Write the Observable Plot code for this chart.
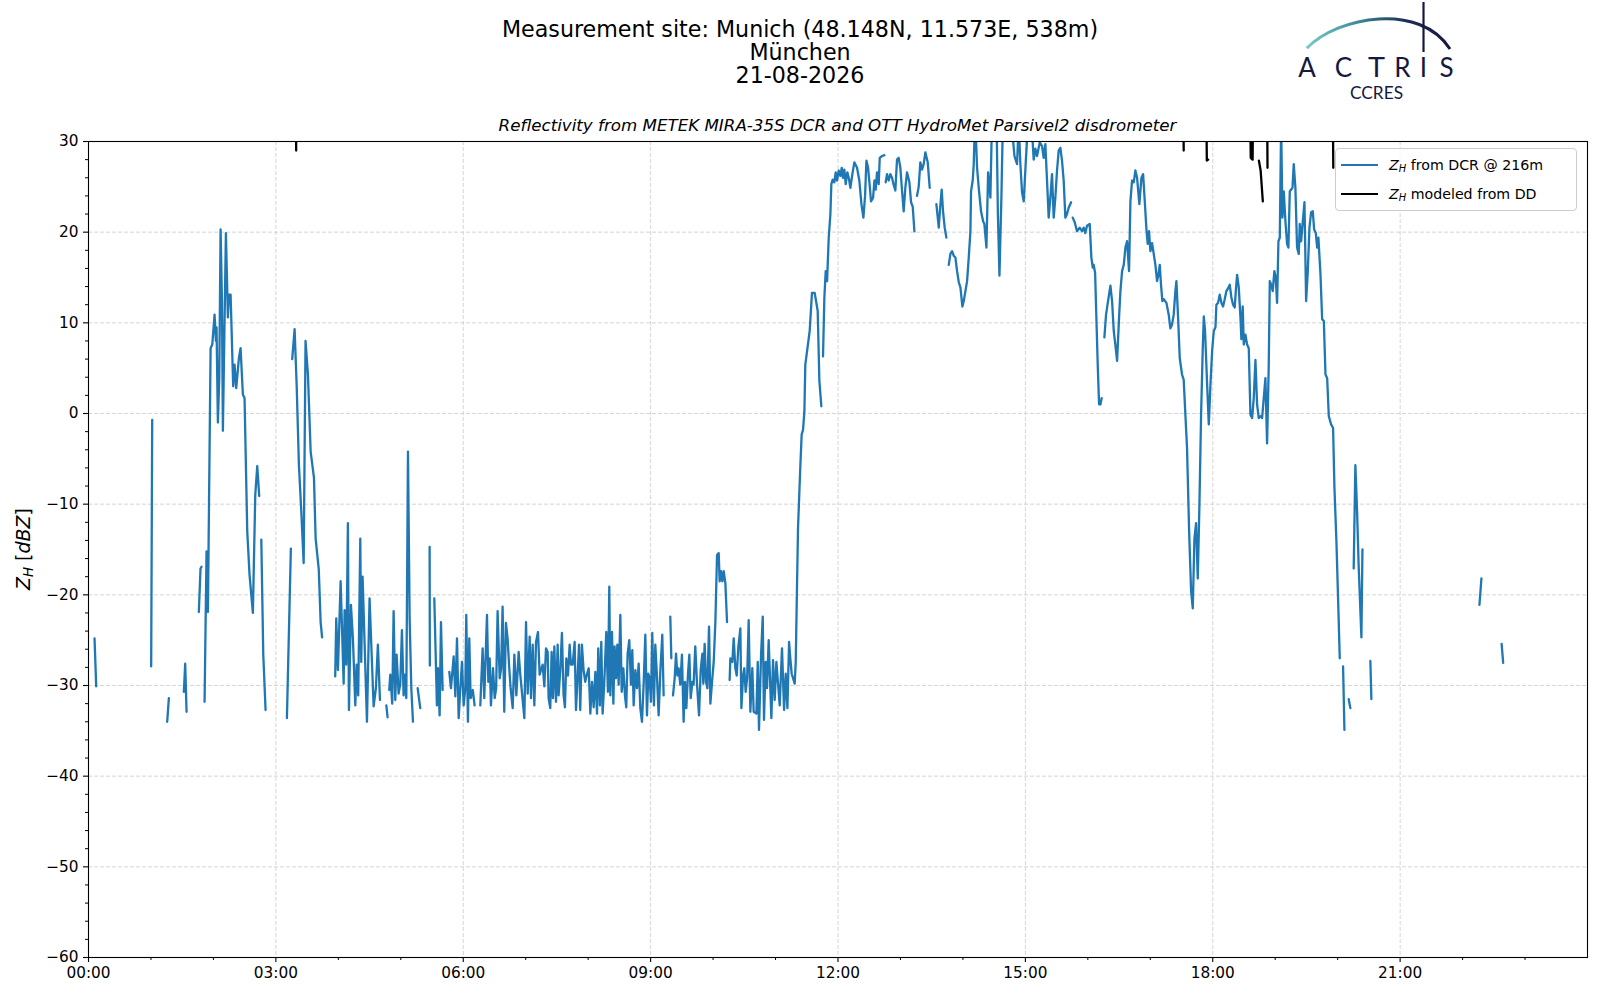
<!DOCTYPE html>
<html>
<head>
<meta charset="utf-8">
<script src="https://cdn.jsdelivr.net/npm/d3@7"></script>
<script src="https://cdn.jsdelivr.net/npm/@observablehq/plot@0.6"></script>
<style>
html,body{margin:0;padding:0;background:#fff;}
#page{position:relative;width:1600px;height:1000px;background:#fff;font-family:"DejaVu Sans",sans-serif;color:#000;overflow:hidden;}
#title{position:absolute;left:0;top:18px;width:1600px;text-align:center;font-size:22.2px;line-height:23px;}
#subtitle{position:absolute;left:88px;width:1499px;top:115px;text-align:center;font-size:16.7px;font-style:italic;line-height:20px;white-space:nowrap;}
#ylabel{position:absolute;left:22.5px;top:549px;transform:translate(-50%,-50%) rotate(-90deg);white-space:nowrap;font-size:19px;line-height:22px;}
sub{font-size:0.7em;vertical-align:-0.25em;line-height:0;}
#chart{position:absolute;left:0;top:100px;}
#legend{position:absolute;left:1335px;top:148px;width:242px;height:63px;box-sizing:border-box;border:1px solid #cccccc;border-radius:4px;background:rgba(255,255,255,0.8);}
.lrow{position:absolute;left:0;width:240px;height:20px;font-size:14.2px;line-height:20px;white-space:nowrap;}
.lrow svg{position:absolute;left:5px;top:0;}
.lrow span{position:absolute;left:53px;top:0;}
#logo{position:absolute;left:0;top:0;}
</style>
</head>
<body>
<div id="page">
  <div id="title">Measurement site: Munich (48.148N, 11.573E, 538m)<br>München<br>21-08-2026</div>
  <div id="subtitle">Reflectivity from METEK MIRA-35S DCR and OTT HydroMet Parsivel2 disdrometer</div>
  <svg id="logo" width="1600" height="110">
    <defs>
      <linearGradient id="arcg" x1="1306" y1="0" x2="1450" y2="0" gradientUnits="userSpaceOnUse">
        <stop offset="0" stop-color="#7ccac7"/>
        <stop offset="0.35" stop-color="#3c8e9b"/>
        <stop offset="0.7" stop-color="#1e2b56"/>
        <stop offset="1" stop-color="#16183f"/>
      </linearGradient>
    </defs>
    <path d="M1306.7,48.3 C1338,16 1420,2 1450,49" fill="none" stroke="url(#arcg)" stroke-width="3"/>
    <line x1="1423.5" y1="2" x2="1423.5" y2="52" stroke="#16183f" stroke-width="2.2"/>
    <g font-family="Lato, 'DejaVu Sans', sans-serif" fill="#16183f" font-size="26" text-anchor="middle">
      <text x="1307" y="77">A</text>
      <text x="1343.5" y="77">C</text>
      <text x="1376.5" y="77" textLength="17" lengthAdjust="spacingAndGlyphs">T</text>
      <text x="1402.5" y="77">R</text>
      <text x="1423.5" y="77">I</text>
      <text x="1446.5" y="77">S</text>
      <text x="1376.5" y="99" font-size="18" textLength="53" lengthAdjust="spacingAndGlyphs">CCRES</text>
    </g>
  </svg>
  <div id="chart"></div>
  <div id="ylabel"><i>Z<sub>H</sub></i> [<i>dBZ</i>]</div>
  <div id="legend">
    <div class="lrow" style="top:6px"><svg width="37" height="20"><line x1="0" y1="10" x2="37" y2="10" stroke="#1f77b4" stroke-width="2.2"/></svg><span><i>Z<sub>H</sub></i> from DCR @ 216m</span></div>
    <div class="lrow" style="top:35px"><svg width="37" height="20"><line x1="0" y1="10" x2="37" y2="10" stroke="#000" stroke-width="2.2"/></svg><span><i>Z<sub>H</sub></i> modeled from DD</span></div>
  </div>
</div>
<script>
// ---- data: [minutes after 00:00 UTC, Z_H in dBZ]; null = gap in the record ----
const dcrNight = [
  [5.8,-24.8],[7.4,-30.1], null,
  [60.2,-27.9],[61.2,-0.7], null,
  [75.6,-34.0],[77.2,-31.4], null,
  [91.6,-30.7],[92.9,-27.6],[94.2,-32.9], null,
  [106.0,-21.9],[107.6,-17.1],[108.6,-16.9], null,
  [111.5,-31.8],[113.4,-15.2],[114.7,-21.9],[117.3,7.2],[118.9,7.6],[121.1,10.9],[122.4,8.0],[123.0,9.5],[124.3,-1.0],[125.6,3.9],
  [126.9,20.3],[128.2,12.4],[129.1,-1.9],[132.0,19.9],[133.9,10.6],[134.9,13.1],[136.5,13.1],[139.0,3.0],[140.3,5.4],[141.9,2.8],
  [144.5,6.1],[146.1,7.2],[148.3,2.1],[149.9,1.7],[152.5,-13.0],[154.7,-17.8],[157.9,-22.0],[160.2,-9.0],[162.1,-5.8],[164.0,-9.1], null,
  [166.0,-13.9],[167.9,-26.6],[170.1,-32.7], null,
  [190.6,-33.6],[194.4,-14.9], null,
  [195.7,6.0],[198.0,9.3],[200.0,3.0],[202.1,-5.6],[204.5,-11.0],[206.7,-16.5],[208.5,8.0],[210.8,4.3],[213.4,-4.2],[216.6,-7.1],
  [218.2,-13.8],[221.2,-17.2],[223.0,-23.0],[224.4,-24.7]
];
const dcrDrizzle = [
  [237.0,-29.0],[238.0,-22.6],[239.6,-28.3],[242.2,-18.5],[245.1,-29.8],[246.0,-21.7],[247.6,-27.7],[249.2,-12.1],[250.2,-32.7],[252.1,-21.1],
  [254.0,-24.8],[256.3,-32.2],[257.6,-27.7],[259.1,-31.1],[261.1,-13.8],[262.0,-27.4],[263.3,-18.0],[267.5,-34.0],[270.0,-20.4],[273.9,-32.3],
  [276.1,-30.3],[278.0,-25.5],[280.0,-31.6], null,
  [286.1,-32.2],[287.3,-33.5], null,
  [288.9,-30.5],[289.9,-28.8],[291.8,-32.0],[293.1,-21.8],[294.7,-31.6],[296.0,-26.6],[297.9,-30.9],[299.5,-29.8],[301.1,-23.9],[302.7,-31.1],
  [303.7,-28.8],[305.3,-31.4],[306.9,-4.2],[308.5,-22.6],[310.1,-30.3],[311.7,-34.0], null,
  [316.2,-30.3],[318.7,-32.5], null,
  [327.7,-14.7],[327.9,-27.8], null,
  [332.2,-20.4],[334.7,-32.2],[335.7,-28.1],[337.3,-33.3],[338.6,-23.0],[340.2,-30.5], null,
  [346.6,-28.5],[348.2,-30.3],[350.8,-26.8],[352.4,-31.2],[354.0,-24.8],[355.6,-33.6],[357.2,-30.3],[358.8,-27.4],[360.4,-32.2],[362.0,-30.3],
  [362.9,-22.2],[364.5,-34.0],[365.8,-24.8],[367.1,-31.4],[369.2,-30.5],[370.9,-32.2], null,
  [376.4,-32.2],[378.6,-25.9],[380.2,-31.4],[382.8,-22.2],[384.1,-29.6],[385.4,-27.0],[386.6,-32.2],[388.6,-28.1],[390.2,-31.4],[391.6,-30.3],
  [393.0,-21.8],[395.0,-29.2],[396.4,-28.1],[397.8,-21.3],[399.4,-32.9],[401.0,-23.1],[402.6,-24.8],[404.2,-28.1],[405.5,-30.3],[407.5,-32.5],
  [409.1,-26.6],[411.0,-31.1],[413.2,-26.3],[414.8,-28.8],[416.9,-31.4],[418.7,-33.6],[420.3,-23.0],[421.9,-30.9],[423.8,-24.6],[425.1,-31.4],
  [426.7,-25.5],[428.3,-32.2],[429.9,-25.2],[431.8,-24.1],[433.4,-28.8],[436.3,-27.7],[437.9,-30.1],[439.5,-25.9],[441.1,-26.3],[442.0,-31.4],
  [443.6,-32.5],[444.9,-26.3],[446.2,-31.4],[447.5,-25.7],[449.1,-31.8],[450.7,-25.5],[451.6,-31.1],[453.2,-28.3],[454.8,-24.2],[456.4,-31.1],
  [457.7,-32.4],[459.0,-27.0],[460.6,-28.9],[462.2,-25.5],[463.5,-27.7],[465.1,-27.7],[467.0,-25.2],[468.3,-32.7],[469.9,-28.9],[471.2,-25.5],
  [472.4,-32.7],[474.0,-25.5],[475.6,-28.3],[477.2,-29.6],[478.9,-28.7],[480.5,-28.1],[482.1,-33.1],[483.7,-29.6],[485.3,-32.4],[486.9,-28.5],
  [488.5,-33.1],[489.7,-25.9],[491.3,-32.2],[492.6,-25.2],[493.9,-33.1],[495.5,-29.6],[497.4,-24.1],[499.0,-30.7],[500.3,-19.1],[501.3,-31.1],
  [502.9,-24.1],[504.2,-32.0],[505.4,-25.7],[506.7,-29.2],[508.0,-25.5],[509.3,-29.9],[510.9,-22.2],[512.2,-30.7],[513.8,-28.1],[515.4,-31.2],
  [516.6,-32.4],[517.9,-26.5],[519.5,-25.0],[521.1,-29.9],[522.4,-26.1],[523.7,-32.2],[525.3,-28.3],[526.9,-30.3],[528.5,-27.6],[530.1,-32.5],
  [531.7,-34.0],[533.3,-29.8],[534.9,-24.4],[536.5,-33.3],[537.8,-28.7],[539.1,-29.2],[540.3,-31.8],[541.6,-24.2],[543.2,-32.2],[544.5,-25.5],
  [546.1,-29.0],[547.7,-33.3],[549.3,-28.5],[551.2,-24.4],[552.5,-31.1], null,
  [558.9,-22.4],[559.9,-27.0], null,
  [561.5,-31.1],[563.1,-29.2],[564.4,-26.5],[565.7,-28.9],[566.9,-28.1],[568.5,-29.9],[570.1,-26.6],[571.7,-34.0],[573.0,-29.6],[574.3,-32.5],
  [575.9,-28.7],[577.2,-26.6],[578.5,-31.4],[580.1,-29.6],[581.3,-29.9],[582.9,-25.7],[584.6,-29.9],[586.5,-33.3],[588.1,-28.3],[589.7,-26.5],
  [590.6,-29.8],[591.9,-25.4],[593.2,-29.6],[594.5,-30.3],[596.1,-23.5],[597.4,-32.0],[599.0,-29.6],[600.6,-27.4],[602.2,-23.0],[603.8,-15.6],
  [605.4,-15.4],[606.3,-18.5],[607.6,-17.4],[608.9,-18.5],[610.2,-17.4],[611.8,-18.7],[613.4,-23.0], null,
  [615.9,-29.4],[616.6,-27.0],[618.5,-27.4],[619.8,-24.8],[621.4,-28.1],[622.7,-28.9],[624.3,-25.7],[626.2,-23.7],[627.2,-32.5],[628.8,-28.9],
  [630.0,-28.1],[631.3,-30.7],[632.7,-29.2],[634.2,-22.8],[635.8,-32.9],[637.7,-28.1],[639.0,-32.9],[641.6,-33.1],[642.9,-27.4],[644.1,-34.9],
  [646.1,-26.6],[647.7,-22.4],[648.9,-33.8],[650.5,-27.4],[651.8,-30.3],[653.4,-25.0],[656.0,-33.6],[657.6,-27.2],[659.2,-31.6],[660.8,-27.4],
  [664.0,-32.2],[666.2,-25.9],[668.2,-32.7],[669.8,-28.7],[671.4,-32.5],[673.0,-25.2],[674.2,-27.0],[675.5,-28.7],[678.4,-29.8],[679.4,-27.4],
  [680.7,-18.5],[681.6,-12.6],[682.9,-8.6],[683.9,-5.6],[685.1,-2.3],[686.4,-1.8],[687.7,0.2],[688.6,5.4],[692.8,9.1],[695.0,13.3],
  [697.6,13.3],[700.5,11.3],[702.1,3.6],[704.0,0.8]
];
const dcrRain = [
  [705.6,6.3],[706.9,12.8],[708.2,15.7],[709.5,14.6],[711.1,19.4],[712.7,22.0],[713.6,25.3],[714.9,25.8],[716.5,25.5],[717.8,26.6],
  [719.1,25.7],[720.7,26.8],[722.3,26.2],[723.6,27.1],[724.8,26.0],[726.1,26.9],[727.4,25.3],[729.0,26.6],[730.5,25.9],[731.9,24.9],
  [733.8,26.4],[735.7,27.7],[738.3,27.1],[740.5,25.7],[742.5,23.1],[744.4,21.6],[746.0,24.0],[747.3,27.9],[748.9,27.1],[750.5,25.1],
  [751.7,23.4],[753.7,23.8],[755.0,25.7],[756.2,24.7],[757.5,26.6],[759.1,25.3],[760.1,28.2],[762.3,28.4],[764.6,28.5], null,
  [765.8,25.5],[767.1,26.4],[768.7,25.7],[770.3,26.4],[771.9,26.0],[773.5,25.2],[775.1,24.6],[776.7,28.0],[778.3,28.2],[779.9,27.1],
  [781.5,24.6],[783.1,22.3],[784.7,24.9],[786.3,26.6],[788.6,25.5],[790.2,23.3],[791.8,22.8],[793.4,20.1], null,
  [795.9,24.0],[797.5,25.0],[799.1,27.7],[800.7,26.9],[802.3,27.5],[803.9,28.8],[806.2,27.7],[808.1,24.9], null,
  [814.5,23.1],[816.8,20.5],[818.0,22.5],[819.6,24.7],[820.9,22.3],[822.5,20.5],[824.1,19.4], null,
  [826.4,16.4],[828.0,17.6],[829.6,17.9],[831.2,17.4],[832.8,17.2],[834.4,15.7],[836.0,14.5],[837.6,13.9],[839.5,11.8],[840.8,12.4],
  [842.4,13.5],[844.0,14.6],[845.6,17.2],[847.2,20.1],[847.8,24.5],[849.4,25.7],[850.4,27.5],[851.7,33],[853.6,27.1],[855.2,24.9],
  [857.4,22.3],[859.4,21.2],[860.6,20.9],[862.6,18.3],[864.2,26.6],[866.4,23.8],[868.0,33],[870.5,34],[872.5,31],[873.6,22],
  [875.1,15.2],[877.0,24],[878.5,33],[882.0,35],[886.0,33],[889.5,28.4],[892.0,27.5],[893.6,32],[895.2,27.5],[896.8,24.4],
  [898.4,23.4],[900.5,28],[903.0,33],[906.0,32],[908.0,28.0],[909.6,29.2],[911.2,28.4],[913.8,29.9],[916.0,29.5],[917.6,28.2],
  [919.2,29.7],[920.8,25.7],[922.4,21.6],[924.0,23.8],[925.6,26.4],[927.2,21.6],[928.8,23.8],[930.4,26.8],[932.0,29.0],[933.6,29.3],
  [935.2,27.9],[936.8,25.7],[938.4,21.6],[940.0,22.0],[941.6,22.7],[943.9,23.3], null,
  [945.5,21.6],[947.4,21.1],[949.6,20.1],[952.2,20.5],[954.4,20.1],[956.0,20.5],[957.6,19.9],[959.2,20.7],[961.8,20.9],[963.4,17.2],
  [964.7,16.1],[965.6,16.4],[967.0,15.5],[968.2,10.6],[969.5,5.4],[970.8,1.0],[972.1,1.0],[973.3,1.7], null,
  [975.9,8.4],[977.5,10.9],[979.4,12.4],[981.7,14.1],[983.3,12.4],[984.9,9.1],[986.8,7.2],[988.1,5.8],[990.0,10.6],[991.3,13.5],
  [992.9,15.7],[994.5,16.4],[996.1,18.3],[997.7,19.0],[999.6,15.7],[1000.9,23.4],[1002.5,25.7],[1004.1,25.5],[1005.7,26.8],[1007.3,26.0],
  [1009.5,23.1],[1011.5,26.0],[1013.1,26.4],[1014.7,23.4],[1016.3,20.3],[1017.5,18.7],[1018.8,20.1],[1020.1,17.9],[1021.7,18.8],[1023.3,17.6],
  [1024.9,16.4],[1026.5,14.6],[1027.8,15.3],[1029.1,16.4],[1030.3,14.2],[1031.6,12.4],[1032.9,12.6],[1035.5,12.2],[1037.7,10.9],[1039.3,9.4],
  [1040.9,9.8],[1042.5,10.9],[1044.1,13.5],[1045.1,14.6],[1046.7,10.6],[1048.3,6.1],[1050.5,4.3],[1052.1,3.7],[1053.7,-0.1],[1055.3,-3.8],
  [1057.3,-13.0],[1059.2,-19.6],[1060.8,-21.5],[1062.4,-13.8],[1064.0,-12.1],[1065.6,-18.2],[1067.2,-10.1],[1068.8,-0.1],[1070.4,7.2],[1071.4,10.7],
  [1072.6,9.1],[1074.6,3.2],[1076.2,-1.2],[1077.8,3.2],[1079.4,6.9],[1081.0,9.1],[1082.6,9.5],[1083.5,12.0],[1085.1,12.2],[1086.7,13.1],
  [1088.3,12.2],[1089.9,11.8],[1091.5,12.6],[1093.1,13.5],[1094.7,13.8],[1096.3,14.2],[1097.9,12.8],[1099.5,12.0],[1101.1,11.7],[1102.4,13.9],
  [1103.4,15.3],[1105.0,13.9],[1106.6,10.6],[1107.5,8.2],[1108.8,11.8],[1109.8,7.6],[1111.4,8.7],[1113.0,7.6],[1114.6,7.2],[1116.2,-0.1],
  [1117.8,-0.5],[1119.4,1.7],[1121.0,5.9],[1122.6,1.0],[1124.2,-0.5],[1125.8,-0.3],[1127.4,-0.5],[1129.0,1.7],[1130.6,3.9],[1132.2,-3.3],
  [1133.8,5.4],[1134.8,14.6],[1136.1,14.2],[1137.6,13.5],[1139.2,15.7],[1140.5,15.0],[1141.8,12.2],[1143.1,19.0],[1144.4,19.4],[1145.7,32],
  [1146.9,21.6],[1148.2,24.5],[1149.8,21.2],[1151.4,18.7],[1152.7,18.3],[1154.0,24.5],[1155.3,24.7],[1156.6,24.9],[1157.8,27.5],[1159.4,24.9],
  [1161.0,18.3],[1162.6,17.6],[1163.6,20.9],[1164.9,19.0],[1166.5,21.2],[1168.1,23.3],[1169.7,12.4],[1171.3,15.7],[1172.9,20.5],[1174.5,22.2],
  [1176.1,22.3],[1177.4,20.3],[1179.0,19.9],[1180.3,18.3],[1181.5,19.4],[1183.5,15.3],[1185.1,10.4],[1186.7,10.2],[1188.3,4.3],[1189.9,3.9],
  [1191.5,-0.3],[1193.7,-1.2],[1195.6,-1.6],[1196.9,-8.2],[1198.8,-14.1],[1200.4,-20.4],[1202.0,-27.0], null,
  [1205.2,-27.9],[1206.5,-34.9], null,
  [1210.6,-31.5],[1212.2,-32.5], null,
  [1215.4,-17.1],[1217.0,-5.7],[1218.6,-10.6],[1220.2,-16.9],[1222.8,-24.7],[1223.8,-15.0], null,
  [1231.4,-27.3],[1232.4,-31.5], null,
  [1336.2,-21.1],[1338.1,-18.2], null,
  [1357.5,-25.4],[1359.0,-27.5]
];
const ddModel = [
  [199.3,33],[199.5,29.0], null,
  [1051.8,33],[1052.1,29.0], null,
  [1073.9,33],[1074.3,27.9],[1075.6,28.0], null,
  [1116.0,33],[1116.5,28.2],[1118.3,28.0],[1118.6,33], null,
  [1124.3,27.9],[1126.0,26.8],[1128.1,23.4], null,
  [1132.3,33],[1132.6,27.1], null,
  [1195.4,33],[1195.8,27.1]
];
const xTickHours = [0, 3, 6, 9, 12, 15, 18, 21];
const yTicks = [-60, -50, -40, -30, -20, -10, 0, 10, 20, 30];

// ---- build ----
const T0 = Date.UTC(2026, 7, 21);
const at = m => new Date(T0 + m * 60000);
function toRows(list, name) {
  const rows = []; let seg = 0;
  for (const p of list) {
    if (p === null) { seg++; continue; }
    rows.push({time: at(p[0]), dbz: p[1], seg: name + seg});
  }
  return rows;
}
const dcrRows = [...toRows(dcrNight, "n"), ...toRows(dcrDrizzle, "d"), ...toRows(dcrRain, "r")];
const ddRows = toRows(ddModel, "dd");
const xMajor = xTickHours.map(h => at(h * 60));
const xMinor = d3.range(0, 24).filter(h => h % 3 !== 0).map(h => at(h * 60));
const yMinor = d3.range(-60, 31, 2).filter(v => v % 10 !== 0);
const gridStyle = {stroke: "#d0d0d0", strokeOpacity: 1, strokeWidth: 0.9, strokeDasharray: "4,2"};

const chart = Plot.plot({
  width: 1600,
  height: 900,
  marginTop: 41,
  marginBottom: 43,
  marginLeft: 88,
  marginRight: 13,
  style: {fontFamily: "'DejaVu Sans', sans-serif", fontSize: "15.3px", color: "#000", background: "transparent", overflow: "visible"},
  x: {type: "utc", domain: [at(0), at(1440)]},
  y: {domain: [-60, 30]},
  marks: [
    Plot.gridY(yTicks.filter(v => v > -60 && v < 30), gridStyle),
    Plot.gridX(xMajor.slice(1), gridStyle),
    Plot.line(dcrRows, {x: "time", y: "dbz", z: "seg", stroke: "#1f77b4", strokeWidth: 2.3, clip: true}),
    Plot.line(ddRows, {x: "time", y: "dbz", z: "seg", stroke: "#000", strokeWidth: 2.3, clip: true}),
    Plot.axisY(yTicks, {tickSize: 5, tickPadding: 5, label: null, strokeWidth: 1.1}),
    Plot.axisY(yMinor, {tickSize: 3, tickFormat: () => "", label: null, strokeWidth: 1}),
    Plot.axisX(xMajor, {tickSize: 5, tickPadding: 5, tickFormat: d3.utcFormat("%H:%M"), label: null, strokeWidth: 1.1}),
    Plot.axisX(xMinor, {tickSize: 3, tickFormat: () => "", label: null, strokeWidth: 1}),
    Plot.frame({stroke: "#000", strokeWidth: 1.1})
  ]
});
document.getElementById("chart").appendChild(chart);
</script>
</body>
</html>
